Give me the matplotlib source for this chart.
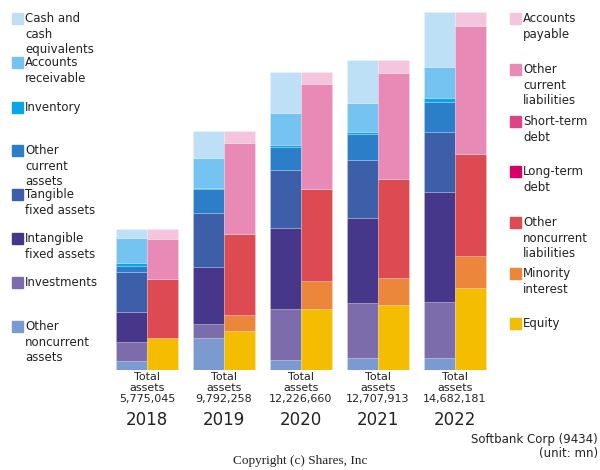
import matplotlib
matplotlib.use("Agg")
import matplotlib.pyplot as plt
from matplotlib.patches import Rectangle
import matplotlib.transforms as mtrans

# Data (unit: JPY mn)
years = ["2018", "2019", "2020", "2021", "2022"]
total_assets = [5775045, 9792258, 12226660, 12707913, 14682181]

# assets, bottom to top
other_noncurrent_assets = [357000, 1300000, 410000, 480000, 504000]
investments = [792000, 586000, 2092000, 2268000, 2284000]
intangible_fixed = [1218000, 2325000, 3334000, 3498000, 4499000]
tangible_fixed = [1665000, 2215000, 2350000, 2350000, 2461000]
other_current_assets = [246000, 984000, 943000, 1066000, 1255000]
inventory = [111000, 66000, 94000, 111000, 152000]
accounts_receivable = [1025000, 1230000, 1325000, 1189000, 1271000]
cash = [369000, 1095000, 1669000, 1747000, 2256000]

# liabilities + equity, bottom to top
equity = [1300000, 1600000, 2502000, 2653000, 3363000]
minority_interest = [25000, 656000, 1148000, 1107000, 1312000]
other_noncurrent_liab = [2420000, 3334000, 3773000, 4073000, 4196000]
long_term_debt = [0, 0, 0, 0, 0]
short_term_debt = [0, 0, 0, 0, 0]
other_current_liab = [1640000, 3732000, 4294000, 4360000, 5225000]
accounts_payable = [398000, 480000, 504000, 521000, 586000]

asset_series = [
    ("Other\nnoncurrent\nassets", other_noncurrent_assets, "#7a9ad0"),
    ("Investments", investments, "#7d6cac"),
    ("Intangible\nfixed assets", intangible_fixed, "#46378a"),
    ("Tangible\nfixed assets", tangible_fixed, "#3d5ea8"),
    ("Other\ncurrent\nassets", other_current_assets, "#2a7fc8"),
    ("Inventory", inventory, "#0aa5e6"),
    ("Accounts\nreceivable", accounts_receivable, "#74c3f0"),
    ("Cash and\ncash\nequivalents", cash, "#bde0f6"),
]
liab_series = [
    ("Equity", equity, "#f5bd00"),
    ("Minority\ninterest", minority_interest, "#eb863a"),
    ("Other\nnoncurrent\nliabilities", other_noncurrent_liab, "#dd4a52"),
    ("Long-term\ndebt", long_term_debt, "#d6006a"),
    ("Short-term\ndebt", short_term_debt, "#dd4488"),
    ("Other\ncurrent\nliabilities", other_current_liab, "#e88ab5"),
    ("Accounts\npayable", accounts_payable, "#f4c5dc"),
]

W, H = 600, 470
fig = plt.figure(figsize=(6, 4.7), dpi=100)
ax = fig.add_axes([100 / W, (H - 370) / H, 402 / W, 360 / H])

bw = 31 / 77
x = list(range(len(years)))


def stack(series, offset):
    bottom = [0] * len(years)
    for label, vals, color in series:
        ax.bar([i + offset for i in x], vals, width=bw, bottom=bottom,
               color=color, edgecolor=(1, 1, 1, 0.25), linewidth=0.5)
        bottom = [b + v for b, v in zip(bottom, vals)]


stack(asset_series, -bw / 2)
stack(liab_series, bw / 2)

ax.set_xlim(-47 / 77, 355 / 77)
ax.set_ylim(0, 360 * 41012)
ax.axis("off")

trans = mtrans.blended_transform_factory(ax.transData, fig.transFigure)
for i, (yr, tot) in enumerate(zip(years, total_assets)):
    ax.text(i, 1 - 372 / H, "Total\nassets\n{:,}".format(tot), transform=trans,
            ha="center", va="top", fontsize=8, color="#222222", linespacing=1.15)
    ax.text(i, 1 - 420 / H, yr, transform=trans, ha="center", va="center",
            fontsize=12, color="#222222")


def legend_block(series, x_sq, x_txt, tops):
    for (label, vals, color), top in zip(series, tops):
        fig.patches.append(Rectangle((x_sq / W, 1 - (top + 11) / H), 11 / W, 11 / H,
                                     transform=fig.transFigure, color=color))
        fig.text(x_txt / W, 1 - (top - 1) / H, label, ha="left", va="top",
                 fontsize=8.5, color="#222222", linespacing=1.27)


legend_block(asset_series[::-1], 12, 25, [13, 57, 102, 145, 189, 233, 277, 321])
legend_block(liab_series[::-1], 510, 523, [13, 64, 116, 166, 217, 268, 318])

fig.text(598 / W, 1 - 447 / H, "Softbank Corp (9434)\n(unit: mn)", ha="right",
         va="center", fontsize=8.5, color="#222222", linespacing=1.1)
fig.text(300 / W, 1 - 461 / H, "Copyright (c) Shares, Inc", ha="center",
         va="center", fontsize=9.5, family="Liberation Serif", color="#222222")

fig.savefig("out.png", dpi=100)
